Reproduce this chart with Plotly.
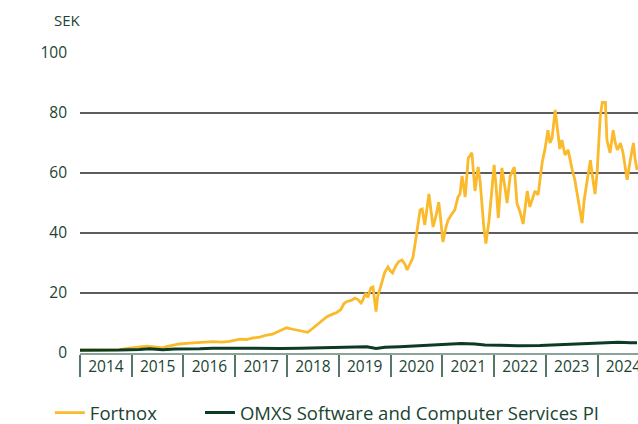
import datetime as dt
import plotly.graph_objects as go

# ---- data (decimal year, value in SEK) ----
fortnox_t = [2014.00, 2014.28, 2014.57, 2014.76, 2014.96, 2015.15, 2015.29, 2015.44, 2015.60, 2015.67,
             2015.83, 2015.92, 2016.12, 2016.25, 2016.41, 2016.56, 2016.74, 2016.89, 2017.09, 2017.22,
             2017.34, 2017.47, 2017.61, 2017.72, 2017.80, 2017.90, 2017.99, 2018.09, 2018.19, 2018.30,
             2018.40, 2018.48, 2018.57, 2018.67, 2018.77, 2018.86, 2018.96, 2019.04, 2019.10, 2019.15,
             2019.25, 2019.31, 2019.37, 2019.43, 2019.46, 2019.52, 2019.56, 2019.62, 2019.66, 2019.72,
             2019.75, 2019.79, 2019.85, 2019.89, 2019.95, 2019.99, 2020.04, 2020.10, 2020.16, 2020.22,
             2020.28, 2020.32, 2020.37, 2020.43, 2020.47, 2020.51, 2020.57, 2020.61, 2020.66, 2020.74,
             2020.78, 2020.82, 2020.88, 2020.93, 2020.97, 2021.01, 2021.07, 2021.11, 2021.17, 2021.24,
             2021.30, 2021.34, 2021.38, 2021.44, 2021.50, 2021.57, 2021.63, 2021.69, 2021.73, 2021.77,
             2021.80, 2021.84, 2021.90, 2021.96, 2022.00, 2022.04, 2022.08, 2022.11, 2022.15, 2022.21,
             2022.25, 2022.31, 2022.39, 2022.44, 2022.50, 2022.56, 2022.60, 2022.64, 2022.69, 2022.75,
             2022.79, 2022.85, 2022.89, 2022.93, 2022.98, 2023.04, 2023.08, 2023.12, 2023.18, 2023.20,
             2023.24, 2023.27, 2023.31, 2023.37, 2023.43, 2023.47, 2023.51, 2023.56, 2023.62, 2023.66,
             2023.70, 2023.74, 2023.80, 2023.86, 2023.91, 2023.95, 2023.99, 2024.01, 2024.05, 2024.09,
             2024.15, 2024.18, 2024.24, 2024.30, 2024.34, 2024.38, 2024.44, 2024.49, 2024.53, 2024.57,
             2024.63, 2024.69, 2024.72, 2024.76]
fortnox_v = [1.0, 1.05, 1.0, 1.1, 1.6, 2.0, 2.3, 2.0, 1.7, 2.1,
             2.6, 3.0, 3.3, 3.4, 3.5, 3.8, 3.6, 3.9, 4.6, 4.5,
             5.0, 5.3, 6.0, 6.3, 6.9, 7.8, 8.4, 8.0, 7.7, 7.4,
             6.9, 8.0, 9.3, 10.8, 12.1, 12.8, 13.5, 14.5, 16.5, 17.1,
             17.6, 18.3, 17.8, 16.7, 17.5, 20.0, 18.5, 21.7, 22.0, 13.8,
             18.7, 21.0, 24.3, 27.0, 28.7, 27.5, 26.7, 29.0, 30.5, 31.0,
             29.5, 27.7, 29.5, 31.7, 36.0, 41.0, 47.7, 48.0, 42.7, 53.0,
             47.0, 42.0, 46.0, 50.3, 44.0, 37.0, 42.0, 44.3, 46.0, 47.7,
             52.0, 53.0, 59.0, 52.0, 65.0, 66.7, 54.0, 62.0, 57.0, 48.0,
             42.0, 36.5, 44.0, 55.0, 62.7, 55.0, 45.0, 52.0, 61.7, 55.0,
             50.0, 59.0, 62.0, 50.0, 47.0, 43.0, 49.0, 54.0, 48.7, 52.0,
             54.0, 52.7, 58.0, 63.7, 67.7, 74.3, 70.0, 71.7, 81.0, 78.0,
             73.0, 68.0, 71.0, 66.0, 67.7, 64.0, 61.0, 57.7, 52.0, 48.0,
             43.3, 51.0, 57.7, 64.3, 57.7, 53.0, 60.0, 65.3, 78.7, 83.5,
             83.5, 71.0, 66.7, 74.3, 70.0, 67.7, 70.0, 66.7, 62.0, 57.7,
             64.3, 70.0, 65.0, 61.0]

omxs_t = [2014.00, 2014.38, 2014.76, 2015.15, 2015.34, 2015.60, 2015.83, 2016.31, 2016.56, 2017.09,
          2017.47, 2017.86, 2018.25, 2018.63, 2019.15, 2019.54, 2019.72, 2019.89, 2020.18, 2020.53,
          2020.95, 2021.36, 2021.63, 2021.82, 2022.11, 2022.46, 2022.89, 2023.43, 2023.86, 2024.15,
          2024.40, 2024.63, 2024.76]
omxs_v = [0.9, 0.9, 1.0, 1.2, 1.4, 1.1, 1.3, 1.4, 1.6, 1.6,
          1.5, 1.5, 1.6, 1.7, 1.9, 2.1, 1.5, 1.9, 2.1, 2.4,
          2.8, 3.2, 3.0, 2.7, 2.6, 2.4, 2.5, 2.9, 3.0, 3.3,
          3.6, 3.4, 3.4]

series_names = ["Fortnox", "OMXS Software and Computer Services PI"]
y_ticks = [0, 20, 40, 60, 80, 100]
y_unit = "SEK"
x_start = "2014-01-01"
x_end = "2024-10-12"


def to_date(t):
    year = int(t)
    start = dt.datetime(year, 1, 1)
    days = (dt.datetime(year + 1, 1, 1) - start).days
    return start + dt.timedelta(days=(t - year) * days)


TEXT = "#1b4432"
YELLOW = "#fbb92c"
GREEN = "#0c3b25"

fig = go.Figure()
fig.add_trace(go.Scatter(x=[to_date(t) for t in fortnox_t], y=fortnox_v, mode="lines",
                         name=series_names[0], line=dict(color=YELLOW, width=2.8),
                         legend="legend"))
fig.add_trace(go.Scatter(x=[to_date(t) for t in omxs_t], y=omxs_v, mode="lines",
                         name=series_names[1], line=dict(color=GREEN, width=3),
                         legend="legend2"))

legend_common = dict(orientation="h", y=-0.2, yanchor="middle", xanchor="left",
                     font=dict(size=18.5, color=TEXT), bgcolor="rgba(0,0,0,0)")

fig.update_layout(
    width=638, height=424,
    margin=dict(l=80, r=0, t=53, b=71, autoexpand=False),
    paper_bgcolor="white", plot_bgcolor="white",
    font=dict(family="Open Sans", size=15, color=TEXT),
    showlegend=True,
    legend=dict(x=-0.054, **legend_common),
    legend2=dict(x=0.215, **legend_common),
    xaxis=dict(range=[x_start, x_end], type="date", tick0=x_start, dtick="M12",
               tickformat="%Y", ticklabelmode="period", ticks="outside", ticklen=22,
               tickcolor="#55786a", tickwidth=1.5, ticklabelstandoff=-23,
               ticklabeloverflow="allow", showgrid=False,
               showline=True, linecolor="#8aa597", linewidth=1.5, automargin=False,
               tickfont=dict(size=15.5, color=TEXT), zeroline=False, fixedrange=True),
    yaxis=dict(range=[0, 100], tickvals=y_ticks, showgrid=True, gridcolor="#5c5c5c",
               gridwidth=1.5, zeroline=False, ticks="", ticklabelstandoff=12, automargin=False,
               tickfont=dict(size=15.5, color=TEXT), showline=False, fixedrange=True),
    annotations=[dict(text=y_unit, xref="paper", yref="paper", x=-0.05, y=1.11,
                      xanchor="left", yanchor="middle", showarrow=False,
                      font=dict(size=15, color=TEXT))],
)

fig.write_html("out.html", config={"displayModeBar": False},
               post_script="document.body.style.margin='0';")
